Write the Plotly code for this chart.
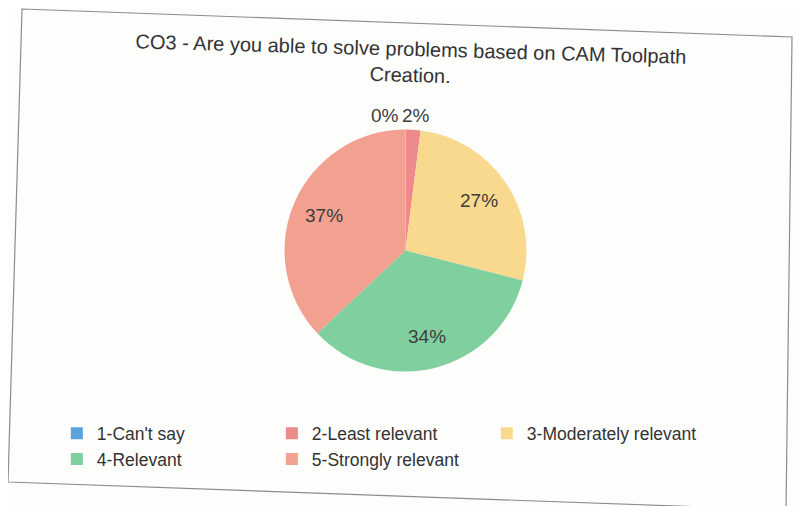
import math
import plotly.graph_objects as go

categories = ["1-Can't say", "2-Least relevant", "3-Moderately relevant", "4-Relevant", "5-Strongly relevant"]
values = [0, 2, 27, 34, 37]
colors = ["#5aa2dc", "#ec8a8c", "#f9d98e", "#80cf9e", "#f2a190"]
title_text = "CO3 - Are you able to solve problems based on CAM Toolpath<br>Creation."

W, H = 801, 506
dom_x = [0.3452, 0.6473]
dom_y = [0.2816, 0.7599]
FONT = "Liberation Sans, Arial, sans-serif"
LABEL_COLOR = "#3d3d3d"

fig = go.Figure(go.Pie(
    labels=categories,
    values=values,
    sort=False,
    direction="clockwise",
    rotation=0,
    marker=dict(colors=colors, line=dict(width=0)),
    textinfo="none",
    domain=dict(x=dom_x, y=dom_y),
    showlegend=True,
    hoverinfo="label+percent",
))

# percentage labels placed at each slice's mid-angle (inside for large, just outside for tiny slices)
cx = (dom_x[0] + dom_x[1]) / 2 * W
cy = (1 - (dom_y[0] + dom_y[1]) / 2) * H
r = min((dom_x[1] - dom_x[0]) * W, (dom_y[1] - dom_y[0]) * H) / 2
total = sum(values)
cum = 0
annotations = []
k = 0
for v in values:
    mid = (cum + v / 2) / total * 2 * math.pi
    cum += v
    small = v < 5
    rad = r * (1.115 if small else 0.73)
    px = cx + rad * math.sin(mid)
    py = cy - rad * math.cos(mid)
    if small:
        anchor = "right" if k == 0 else "center"
        shift = -4 if k == 0 else 2
        k += 1
    else:
        anchor, shift = "center", 0
    annotations.append(dict(
        x=px / W, y=1 - py / H, xref="paper", yref="paper",
        text=f"{v}%", showarrow=False,
        xanchor=anchor, yanchor="middle", xshift=shift,
        font=dict(family=FONT, size=19, color=LABEL_COLOR),
    ))

# chart title (the scanned page is slightly rotated)
annotations.append(dict(
    x=0.502, y=0.893, xref="paper", yref="paper",
    text=title_text, showarrow=False, textangle=1.6,
    xanchor="center", yanchor="middle", align="center",
    font=dict(family=FONT, size=20, color="#333333"),
))

# frame of the scanned chart area (slightly rotated)
frame = [(0.0175, 0.998), (0.9788, 0.9427), (0.9713, 0.0079), (0.0, 0.0632)]
frame_path = "M " + " L ".join(f"{x},{y}" for x, y in frame) + " Z"

fig.update_layout(
    width=W, height=H,
    margin=dict(l=0, r=0, t=0, b=0),
    paper_bgcolor="#fdfdfc",
    plot_bgcolor="#fdfdfc",
    legend=dict(orientation="h", x=0.061, xanchor="left", y=0.195, yanchor="top",
                entrywidth=170, entrywidthmode="pixels",
                font=dict(family=FONT, size=17.5, color="#333333"),
                itemwidth=30),
    annotations=annotations,
    shapes=[dict(type="path", xref="paper", yref="paper", path=frame_path,
                 line=dict(color="#8c8c8c", width=1.2))],
)

fig.write_html("out.html")
